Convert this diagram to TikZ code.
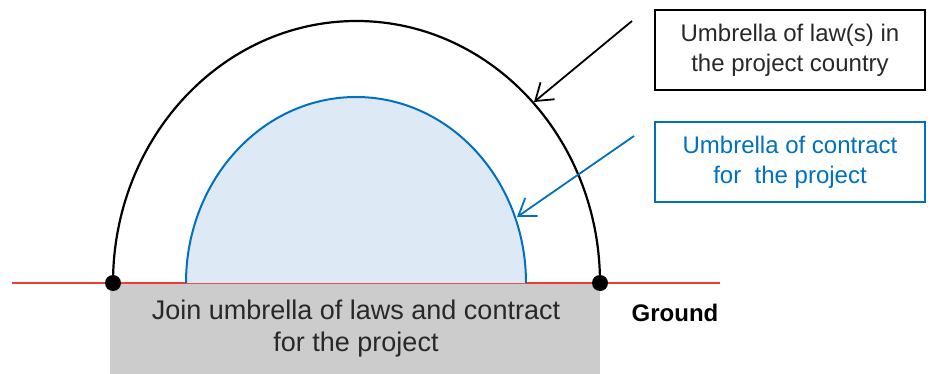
\documentclass[tikz,border=0pt]{standalone}
\usepackage{fontspec}
\setmainfont{Liberation Sans}
\usetikzlibrary{arrows.meta}
\definecolor{lawblue}{RGB}{0,112,192}
\definecolor{lawfill}{RGB}{222,233,246}
\definecolor{groundred}{RGB}{238,60,60}
\definecolor{joingray}{RGB}{204,204,204}
\definecolor{textgray}{RGB}{40,40,40}

\begin{document}
\begin{tikzpicture}[x=0.5pt,y=-0.5pt,
  labelbox/.style={draw,line width=1pt,minimum width=135pt,minimum height=40pt,
    inner sep=0pt,align=center,font=\fontsize{12}{15}\selectfont},
  pointer/.style={-{Straight Barb[length=8pt,width=11pt]},line width=0.9pt}]
\useasboundingbox (0,0) rectangle (931,374);

%the ground:
\coordinate (lawL) at (113,283);
\coordinate (lawR) at (600,283);
\coordinate (conL) at (186,283);
\fill[joingray] (110,283) rectangle (600,374);
\draw[groundred,line width=1pt] (12,283) -- (720,283);

%the arches:
\fill[lawfill] (conL) arc[start angle=180,end angle=360,x radius=170,y radius=186] -- cycle;
\draw[lawblue,line width=1pt] (conL) arc[start angle=180,end angle=360,x radius=170,y radius=186];
\draw[line width=1.1pt] (lawL) arc[start angle=180,end angle=360,x radius=243.5,y radius=262];
\fill (lawL) circle[radius=8];
\fill (lawR) circle[radius=8];

%the labels:
\node[labelbox,text=textgray] (lawbox) at (790,50) {Umbrella of law(s) in\\the project country};
\node[labelbox,draw=lawblue,text=lawblue] (conbox) at (790,162) {Umbrella of contract\\for\ \ the project};
\node[align=center,text=textgray,font=\fontsize{13.5}{16}\selectfont] (join) at (356,329)
  {Join umbrella of laws and contract\\for the project};
\node[font=\bfseries\fontsize{12}{15}\selectfont] (ground) at (675,313) {Ground};

%the arrows:
\coordinate (lawstart) at (632,21);
\coordinate (lawtip) at (534,102);
\coordinate (constart) at (634,136);
\coordinate (contip) at (517,217);
\draw[pointer] (lawstart) -- (lawtip);
\draw[pointer,lawblue] (constart) -- (contip);
\end{tikzpicture}
\end{document}
